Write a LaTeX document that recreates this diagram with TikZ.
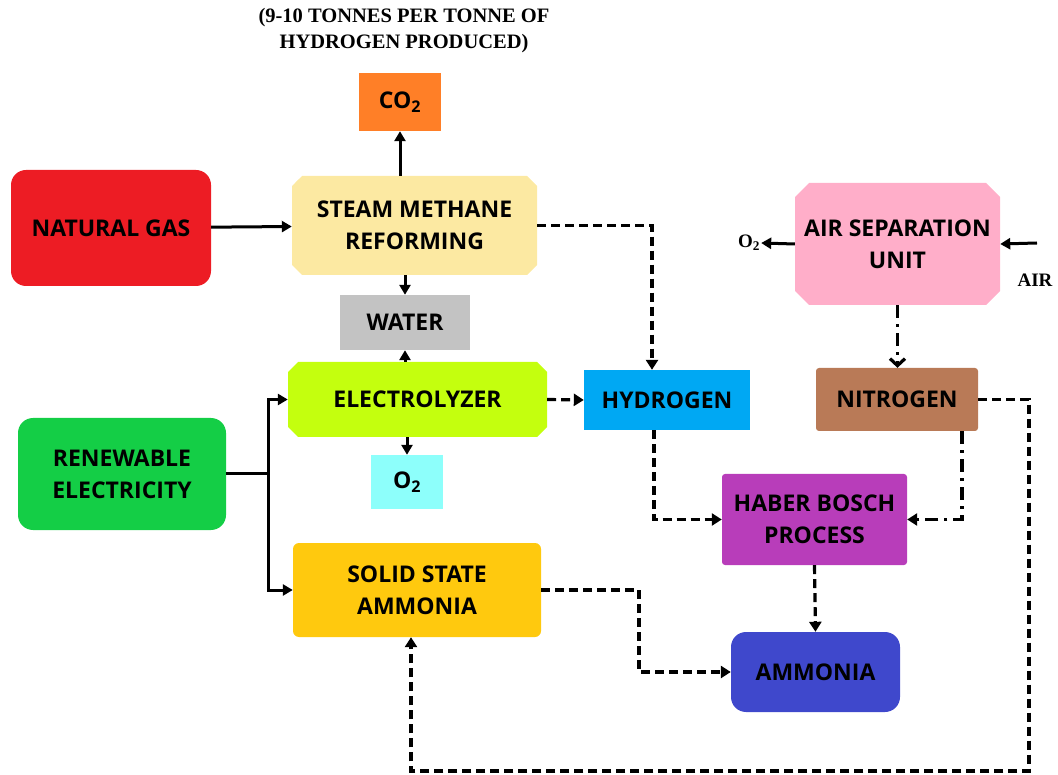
\documentclass[tikz,border=0pt]{standalone}
\usepackage{fontspec}
\newfontfamily\boxfont{Open Sans}
\newfontfamily\notefont{Liberation Serif}
\usepackage{tikz}
\usetikzlibrary{positioning,arrows.meta,shapes.misc}

\definecolor{cOrange}{HTML}{FF7F27}
\definecolor{cRed}{HTML}{ED1C24}
\definecolor{cCream}{HTML}{FCE9A2}
\definecolor{cGray}{HTML}{C3C3C3}
\definecolor{cLime}{HTML}{C4FF0E}
\definecolor{cAqua}{HTML}{8DFFFB}
\definecolor{cGreen}{HTML}{14CE46}
\definecolor{cGold}{HTML}{FFC90E}
\definecolor{cSky}{HTML}{00A8F3}
\definecolor{cPink}{HTML}{FFAEC9}
\definecolor{cBrown}{HTML}{B97A57}
\definecolor{cPurple}{HTML}{B83DBA}
\definecolor{cBlue}{HTML}{3F48CC}

\begin{document}
\begin{tikzpicture}[x=1pt, y=-1pt,
  box/.style={rectangle, inner sep=2pt, align=center,
    font=\boxfont\bfseries\fontsize{23}{32}\selectfont},
  roundbox/.style={box, rounded corners=15pt},
  cutbox/.style={box, chamfered rectangle, chamfered rectangle xsep=5pt,
    chamfered rectangle ysep=5pt},
  note/.style={font=\notefont\bfseries\fontsize{19}{22}\selectfont, inner sep=1pt},
  flow/.style={line width=3pt, -{Triangle[length=10pt,width=11pt]}},
  feed/.style={line width=3.2pt, dash pattern=on 9pt off 5pt,
    -{Triangle[length=10pt,width=12pt]}},
  feeddot/.style={line width=3.2pt, dash pattern=on 13pt off 6pt on 3pt off 6pt,
    -{Triangle[length=10pt,width=12pt]}}]
\useasboundingbox (0,0) rectangle (1058,775);

\node[note, align=center, font=\notefont\bfseries\fontsize{20.5}{26}\selectfont]
  (tonnes) at (404,31) {(9-10 TONNES PER TONNE OF\\HYDROGEN PRODUCED)};
\node[box, fill=cOrange, minimum width=82pt, minimum height=58pt]  (co2)   at (400,102)   {CO\textsubscript{2}};
\node[roundbox, fill=cRed, minimum width=200pt, minimum height=116pt] (natgas) at (111,228) {NATURAL GAS};
\node[cutbox, fill=cCream, minimum width=245pt, minimum height=99pt] (smr)   at (414.5,225.5) {STEAM METHANE\\REFORMING};
\node[box, fill=cGray, minimum width=130pt, minimum height=55pt]   (water) at (405,322.5) {WATER};
\node[cutbox, fill=cLime, minimum width=259pt, minimum height=75pt] (elec)  at (417.5,399.5) {ELECTROLYZER};
\node[box, fill=cAqua, minimum width=72pt, minimum height=54pt]    (oxy)   at (407,482)   {O\textsubscript{2}};
\node[roundbox, fill=cGreen, minimum width=208pt, minimum height=112pt] (renew) at (122,474) {RENEWABLE\\ELECTRICITY};
\node[box, rounded corners=6pt, fill=cGold, minimum width=248pt, minimum height=94pt] (solid) at (417,590) {SOLID STATE\\AMMONIA};
\node[box, fill=cSky, minimum width=166pt, minimum height=60pt]    (hydro) at (667,400)   {HYDROGEN};
\node[cutbox, fill=cPink, chamfered rectangle xsep=7pt, chamfered rectangle ysep=7pt,
  minimum width=205pt, minimum height=122pt]                         (asu)   at (897.5,244) {AIR SEPARATION\\UNIT};
\node[box, rounded corners=3pt, fill=cBrown, minimum width=162pt, minimum height=63pt] (nitro) at (897,399.5) {NITROGEN};
\node[box, rounded corners=3pt, fill=cPurple, minimum width=185pt, minimum height=91pt] (haber) at (814.5,519.5) {HABER BOSCH\\PROCESS};
\node[roundbox, fill=cBlue, minimum width=169pt, minimum height=80pt] (ammonia) at (815.5,672) {AMMONIA};
\node[note] (o2out) at (749,243) {O\textsubscript{2}};
\node[note] (air)   at (1035,280) {AIR};

\coordinate (split)   at (268,474);
\coordinate (airin)   at (1037,243);
\coordinate (loopR)   at (1029,771);
\coordinate (ssaturn) at (639,672);

% solid lines
\path[flow]
    (natgas) edge (smr)
    (smr.north -| co2.south) edge (co2.south)
    (smr.south -| water.north) edge (water.north)
    (elec.north -| water.south) edge (water.south)
    (elec.south -| oxy.north) edge (oxy.north)
    (asu.west) edge (o2out.east)
    (airin) edge (asu.east)
; %-path-%
\draw[line width=3pt] (renew.east) -- (split);
\draw[flow] (split) |- (elec.west);
\draw[flow] (split) |- (solid.west);

% dashed lines
\draw[feed] (smr.east) -| ([xshift=-15pt]hydro.north);
\draw[feed] (elec.east) -- (hydro.west);
\draw[feed] ([xshift=-13pt]hydro.south) |- (haber.west);
\draw[feed] (haber.south) -- (ammonia.north);
\draw[feed] (solid.east) -| (ssaturn) -- (ammonia.west);
\draw[feed] (nitro.east) -| (loopR) -| ([xshift=-6pt]solid.south);
\draw[feeddot, -{Straight Barb[length=7pt,width=15pt]}] (asu.south) -- (asu.south |- nitro.north);
\draw[feeddot] ([xshift=65pt]nitro.south) |- (haber.east);
\end{tikzpicture}
\end{document}
